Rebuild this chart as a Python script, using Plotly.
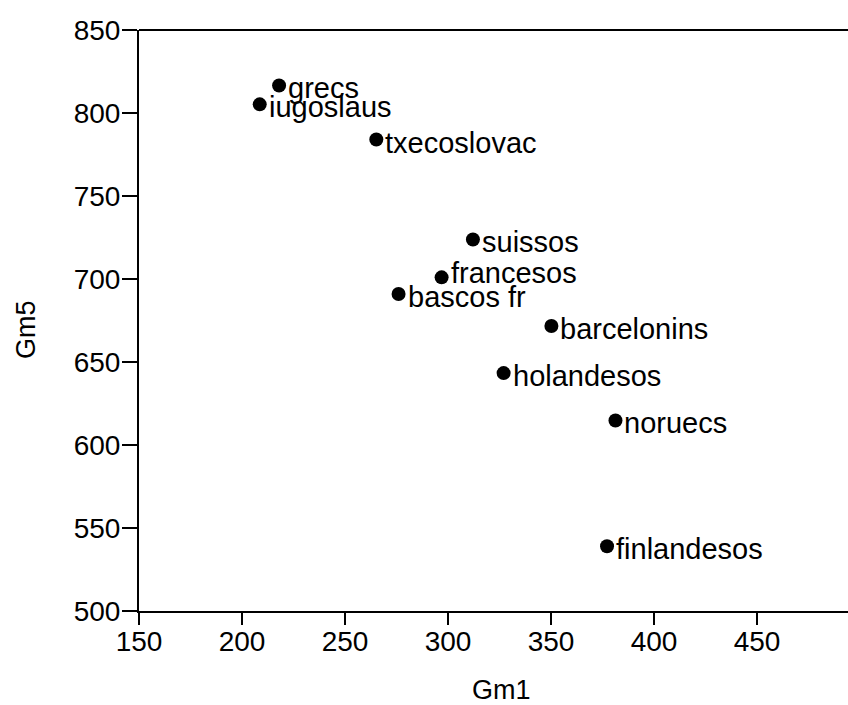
import plotly.graph_objects as go

# Group means on two variables
groups = ["grecs", "iugoslaus", "txecoslovac", "suissos", "francesos",
          "bascos fr", "barcelonins", "holandesos", "noruecs", "finlandesos"]
gm1 = [218.0, 208.6, 265.2, 312.1, 296.9, 276.0, 350.2, 327.0, 381.3, 377.2]
gm5 = [816.6, 805.2, 784.0, 723.8, 701.0, 691.0, 671.7, 643.3, 614.8, 539.0]

x_ticks = [150, 200, 250, 300, 350, 400, 450]
y_ticks = [500, 550, 600, 650, 700, 750, 800, 850]

FONT = "Liberation Sans, Arial, sans-serif"
W, H = 848, 705
ML, MT, MB, MR = 139, 29.5, 93.5, 0

# Extra vertical nudge (px) for labels that would otherwise collide
label_nudge = {"francesos": 7}

fig = go.Figure()
fig.add_trace(go.Scatter(
    x=gm1, y=gm5, mode="markers",
    marker=dict(color="black", size=14),
    hoverinfo="skip", showlegend=False,
))

# Point labels to the right of each dot
for name, xv, yv in zip(groups, gm1, gm5):
    fig.add_annotation(
        x=xv, y=yv, text=name, showarrow=False,
        xanchor="left", yanchor="middle", xshift=7,
        yshift=-3 + label_nudge.get(name, 0),
        font=dict(family=FONT, size=29, color="black"),
    )

# Axis titles
fig.add_annotation(
    xref="paper", yref="paper", x=(501 - ML) / (W - ML - MR), y=0,
    text="Gm1", showarrow=False, xanchor="center", yanchor="middle",
    yshift=-78.5, font=dict(family=FONT, size=27, color="black"),
)
fig.add_annotation(
    xref="paper", yref="paper", x=0, y=(H - MB - 330) / (H - MT - MB),
    text="Gm5", showarrow=False, textangle=-90, xanchor="center", yanchor="middle",
    xshift=-(ML - 26), font=dict(family=FONT, size=27, color="black"),
)

# Top frame line
fig.add_shape(type="line", xref="paper", yref="paper", x0=0, x1=1, y0=1, y1=1,
              line=dict(color="black", width=2))

axis_common = dict(
    showgrid=False, zeroline=False, showline=True, linecolor="black", linewidth=2,
    ticks="outside", tickwidth=2, tickcolor="black",
    tickfont=dict(family=FONT, size=28, color="black"),
)
fig.update_xaxes(range=[150, 150 + (W - ML - MR) / 2.06], tickvals=x_ticks,
                 ticklen=12, ticklabelstandoff=-8, **axis_common)
fig.update_yaxes(range=[500, 850], tickvals=y_ticks,
                 ticklen=15, ticklabelstandoff=-4, **axis_common)

fig.update_layout(
    width=W, height=H,
    margin=dict(l=ML, r=MR, t=MT, b=MB, pad=0),
    plot_bgcolor="white", paper_bgcolor="white",
)

fig.write_html("out.html")
